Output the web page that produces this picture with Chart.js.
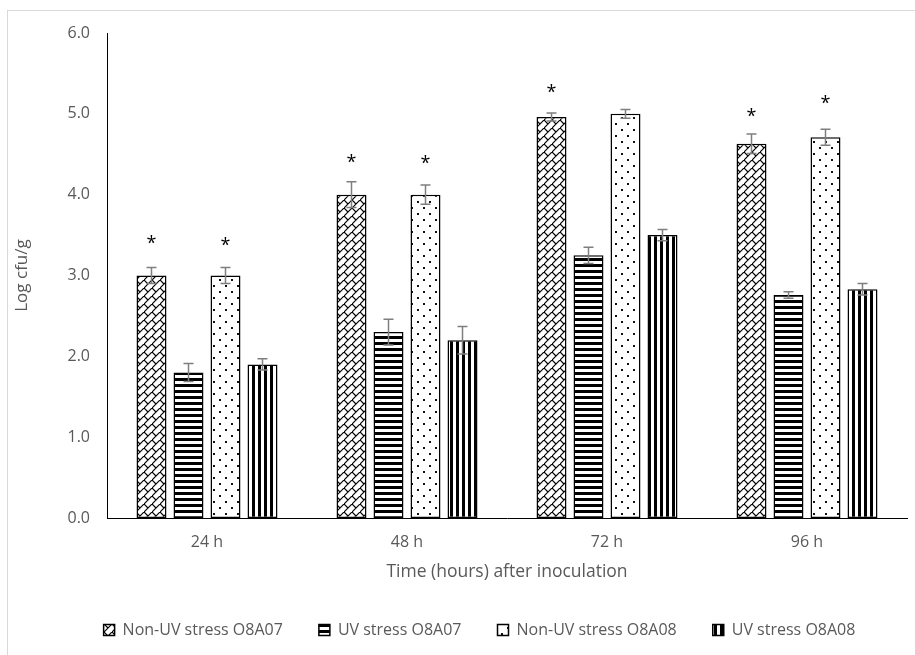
<!DOCTYPE html>
<html>
<head>
<meta charset="utf-8">
<script src="https://cdn.jsdelivr.net/npm/chart.js@4/dist/chart.umd.min.js"></script>
<style>
    html, body { margin: 0; padding: 0; background: #fff; overflow: hidden; }
    #frame { position: absolute; left: 7px; top: 10px; width: 1000px; height: 1000px; border: 1px solid #d9d9d9; }
    #wrap { position: absolute; left: 0; top: 0; width: 915px; height: 655px; }
</style>
</head>
<body>
<div id="frame"></div>
<div id="wrap"><canvas id="chart" width="915" height="655"></canvas></div>
<script>
// 数据
const categories = ['24 h', '48 h', '72 h', '96 h'];
const yTicks = [0, 1, 2, 3, 4, 5, 6];

const nonUv07 = [3.0, 4.0, 4.96, 4.63];
const nonUv07Err = [0.1, 0.16, 0.05, 0.12];
const nonUv07Star = [3.44, 4.45, 5.31, 5.02];

const uv07 = [1.8, 2.3, 3.25, 2.76];
const uv07Err = [0.11, 0.16, 0.1, 0.04];

const nonUv08 = [3.0, 4.0, 5.0, 4.71];
const nonUv08Err = [0.1, 0.12, 0.055, 0.1];
const nonUv08Star = [3.42, 4.44, null, 5.18];

const uv08 = [1.9, 2.2, 3.5, 2.83];
const uv08Err = [0.07, 0.17, 0.07, 0.07];

const textColor = '#595959';
const fontFamily = '"Open Sans", "Noto Sans", sans-serif';

/**
 * 生成填充图案
 */
function makePattern(w, h, draw) {
    const c = document.createElement('canvas');
    c.width = w;
    c.height = h;
    const g = c.getContext('2d');
    g.fillStyle = '#fff';
    g.fillRect(0, 0, w, h);
    draw(g);
    return g.createPattern(c, 'repeat');
}

const brick = makePattern(8, 8, g => {
    g.strokeStyle = '#000';
    g.lineWidth = 1.2;
    g.beginPath();
    g.moveTo(-1, 9); g.lineTo(9, -1);
    g.moveTo(0, 0); g.lineTo(4, 4);
    g.stroke();
});

const hStripes = makePattern(6, 6, g => {
    g.fillStyle = '#000';
    g.fillRect(0, 0, 6, 3);
});

const vStripes = makePattern(6, 6, g => {
    g.fillStyle = '#000';
    g.fillRect(0, 0, 3, 6);
});

const dots = makePattern(12, 12, g => {
    g.fillStyle = '#111';
    g.fillRect(3, 3, 2, 2);
    g.fillRect(9, 9, 2, 2);
});

// 误差线和星号
const extrasPlugin = {
    id: 'extras',
    afterLayout(chart) {
        // 图例整体右移，与原图对齐
        chart.legend.left += 26;
        chart.legend.right += 26;
    },
    afterDatasetsDraw(chart) {
        const ctx = chart.ctx;
        const y = chart.scales.y;
        chart.data.datasets.forEach((ds, i) => {
            const meta = chart.getDatasetMeta(i);
            meta.data.forEach((bar, j) => {
                const v = ds.data[j];
                const e = ds.errors[j];
                const top = y.getPixelForValue(v + e);
                const bot = y.getPixelForValue(v - e);
                ctx.save();
                ctx.strokeStyle = '#7f7f7f';
                ctx.lineWidth = 1.5;
                ctx.beginPath();
                ctx.moveTo(bar.x, top); ctx.lineTo(bar.x, bot);
                ctx.moveTo(bar.x - 5, top); ctx.lineTo(bar.x + 5, top);
                ctx.moveTo(bar.x - 5, bot); ctx.lineTo(bar.x + 5, bot);
                ctx.stroke();
                ctx.restore();

                if (ds.stars && ds.stars[j] != null) {
                    ctx.save();
                    ctx.fillStyle = '#000';
                    ctx.font = '18px ' + fontFamily;
                    ctx.textAlign = 'center';
                    ctx.textBaseline = 'alphabetic';
                    const m = ctx.measureText('*');
                    const off = (m.actualBoundingBoxAscent - m.actualBoundingBoxDescent) / 2;
                    ctx.fillText('*', bar.x, y.getPixelForValue(ds.stars[j]) + off);
                    ctx.restore();
                }
            });
        });
    }
};

function barSet(label, data, errors, fill, stars) {
    return {
        label: label,
        data: data,
        errors: errors,
        stars: stars || null,
        backgroundColor: fill,
        borderColor: '#000',
        borderWidth: 1.5,
        borderSkipped: false,
        categoryPercentage: 0.74,
        barPercentage: 0.81
    };
}

new Chart(document.getElementById('chart'), {
    type: 'bar',
    data: {
        labels: categories,
        datasets: [
            barSet('Non-UV stress O8A07', nonUv07, nonUv07Err, brick, nonUv07Star),
            barSet('UV stress O8A07', uv07, uv07Err, hStripes),
            barSet('Non-UV stress O8A08', nonUv08, nonUv08Err, dots, nonUv08Star),
            barSet('UV stress O8A08', uv08, uv08Err, vStripes)
        ]
    },
    options: {
        responsive: false,
        animation: false,
        events: [],
        layout: {
            padding: { top: 33, left: 0, right: 8, bottom: 7 }
        },
        plugins: {
            tooltip: { enabled: false },
            legend: {
                position: 'bottom',
                labels: {
                    color: textColor,
                    boxWidth: 11,
                    boxHeight: 11,
                    padding: 36,
                    font: { family: fontFamily, size: 16 }
                }
            }
        },
        scales: {
            x: {
                afterFit(s) { s.height = 68; },
                grid: { display: false, drawTicks: false },
                border: { display: true, color: '#000', width: 1 },
                ticks: {
                    color: textColor,
                    padding: 15,
                    font: { family: fontFamily, size: 16 }
                },
                title: {
                    display: true,
                    text: 'Time (hours) after inoculation',
                    color: textColor,
                    padding: { top: 0, bottom: 3.5 },
                    font: { family: fontFamily, size: 17.5 }
                }
            },
            y: {
                min: 0,
                max: 6,
                afterFit(s) { s.width = 107; },
                afterBuildTicks(s) { s.ticks = yTicks.map(v => ({ value: v })); },
                grid: { display: false, drawTicks: false },
                border: { display: true, color: '#000', width: 1 },
                ticks: {
                    color: textColor,
                    padding: 17,
                    font: { family: fontFamily, size: 16 },
                    callback: v => v.toFixed(1)
                },
                title: {
                    display: true,
                    text: 'Log cfu/g',
                    color: textColor,
                    padding: { top: 12, bottom: 0 },
                    font: { family: fontFamily, size: 17 }
                }
            }
        }
    },
    plugins: [extrasPlugin]
});
</script>
</body>
</html>
